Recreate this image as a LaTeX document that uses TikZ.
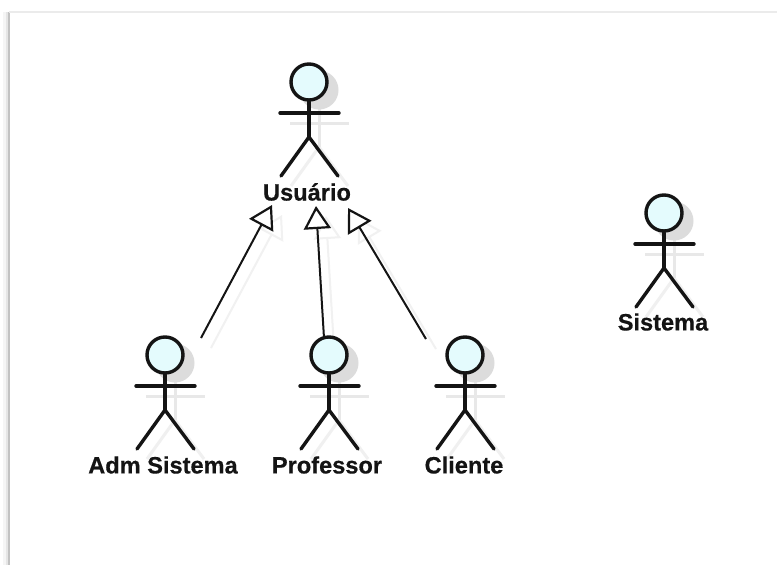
\documentclass[tikz,border=0pt]{standalone}
\usepackage{fontspec}
\setmainfont{Liberation Sans}
\newfontfamily\lblfont{Liberation Sans Bold}[FakeBold=0.5]
\usetikzlibrary{arrows.meta,calc}
\definecolor{facefill}{HTML}{E4FBFD}
\definecolor{shadowhead}{HTML}{DCDCDC}
\definecolor{shadowline}{HTML}{E8E8E8}
\definecolor{shadowleg}{HTML}{F0F0F0}
\definecolor{shadowgen}{HTML}{F1F1F1}
\definecolor{inkline}{HTML}{141414}
\tikzset{
  x=1pt,y=-1pt,
  headnode/.style={circle,draw=inkline,fill=facefill,line width=3.4pt,minimum size=36pt,inner sep=0pt},
  limb/.style={draw=inkline,line width=3.4pt,line cap=round},
  shadowhd/.style={circle,fill=shadowhead,minimum size=39pt,inner sep=0pt},
  shadowlimb/.style={draw=shadowline,line width=3pt},
  shadowlegs/.style={draw=shadowleg,line width=3pt},
  actorlabel/.style={font=\lblfont\fontsize{23.6}{26}\selectfont,text=inkline,inner sep=0pt},
  genline/.style={draw=inkline,line width=2pt,-{Triangle[open,fill=white,length=23pt,width=27pt,line width=2.2pt]}},
  genshadow/.style={draw=shadowgen,line width=2pt,-{Triangle[open,fill=white,length=23pt,width=27pt,line width=2pt]}},
}
% #1 name, #2 x, #3 y of the head centre
\newcommand{\actorshadow}[3]{
  \draw[shadowlegs] (#2-18,#3+104) -- (#2+10,#3+65) -- (#2+39,#3+104);
  \draw[shadowlimb] (#2+10,#3+20) -- (#2+10,#3+65);
  \draw[shadowlimb] (#2-19,#3+41) -- (#2+40,#3+41);
  \node[shadowhd] at (#2+10,#3+8) {};
}
\newcommand{\actorbody}[3]{
  \node[headnode] (#1) at (#2,#3) {};
  \coordinate (#1hip) at (#2,#3+55);
  \coordinate (#1la) at (#2-29,#3+31);
  \coordinate (#1ra) at (#2+30,#3+31);
  \coordinate (#1ll) at (#2-28,#3+94);
  \coordinate (#1rl) at (#2+29,#3+94);
  \draw[limb] (#1.south) -- (#1hip);
  \draw[limb] (#1la) -- (#1ra);
  \draw[limb] (#1ll) -- (#1hip) -- (#1rl);
}
\begin{document}
\begin{tikzpicture}
\useasboundingbox (0,0) rectangle (777,565);
\fill[white] (0,0) rectangle (777,565);
% window edge
\draw[draw=black!4,line width=6pt] (6,12) -- (6,565);
\draw[draw=black!10,line width=3pt] (7.5,12) -- (7.5,565);
\draw[draw=black!24,line width=2.5pt] (9,12) -- (9,565);
\draw[draw=black!8,line width=2pt] (9,12) -- (777,12);
% shadows
\actorshadow{a}{309}{82}
\actorshadow{b}{165}{355}
\actorshadow{c}{329}{355}
\actorshadow{d}{465}{355}
\actorshadow{e}{664}{213}
\coordinate (s1a) at (211,348); \coordinate (s1b) at (282,215);
\coordinate (s2a) at (334,348); \coordinate (s2b) at (326,216);
\coordinate (s3a) at (436,349); \coordinate (s3b) at (358,218);
\draw[genshadow] (s1a) -- (s1b);
\draw[genshadow] (s2a) -- (s2b);
\draw[genshadow] (s3a) -- (s3b);
% actors
\actorbody{usuario}{309}{82}
\actorbody{adm}{165}{355}
\actorbody{prof}{329}{355}
\actorbody{cli}{465}{355}
\actorbody{sis}{664}{213}
\node[actorlabel] (lusuario) at (307,192) {Usuário};
\node[actorlabel] (ladm) at (163,465) {Adm Sistema};
\node[actorlabel] (lprof) at (327,465) {Professor};
\node[actorlabel] (lcli) at (464,465) {Cliente};
\node[actorlabel] (lsis) at (663,322) {Sistema};
% generalisations
\coordinate (g1) at (201,338); \coordinate (t1) at (272,205);
\coordinate (g2) at (324,338); \coordinate (t2) at (316,206);
\coordinate (g3) at (426,339); \coordinate (t3) at (348,208);
\draw[genline] (g1) -- (t1);
\draw[genline] (g2) -- (t2);
\draw[genline] (g3) -- (t3);
\end{tikzpicture}
\end{document}
